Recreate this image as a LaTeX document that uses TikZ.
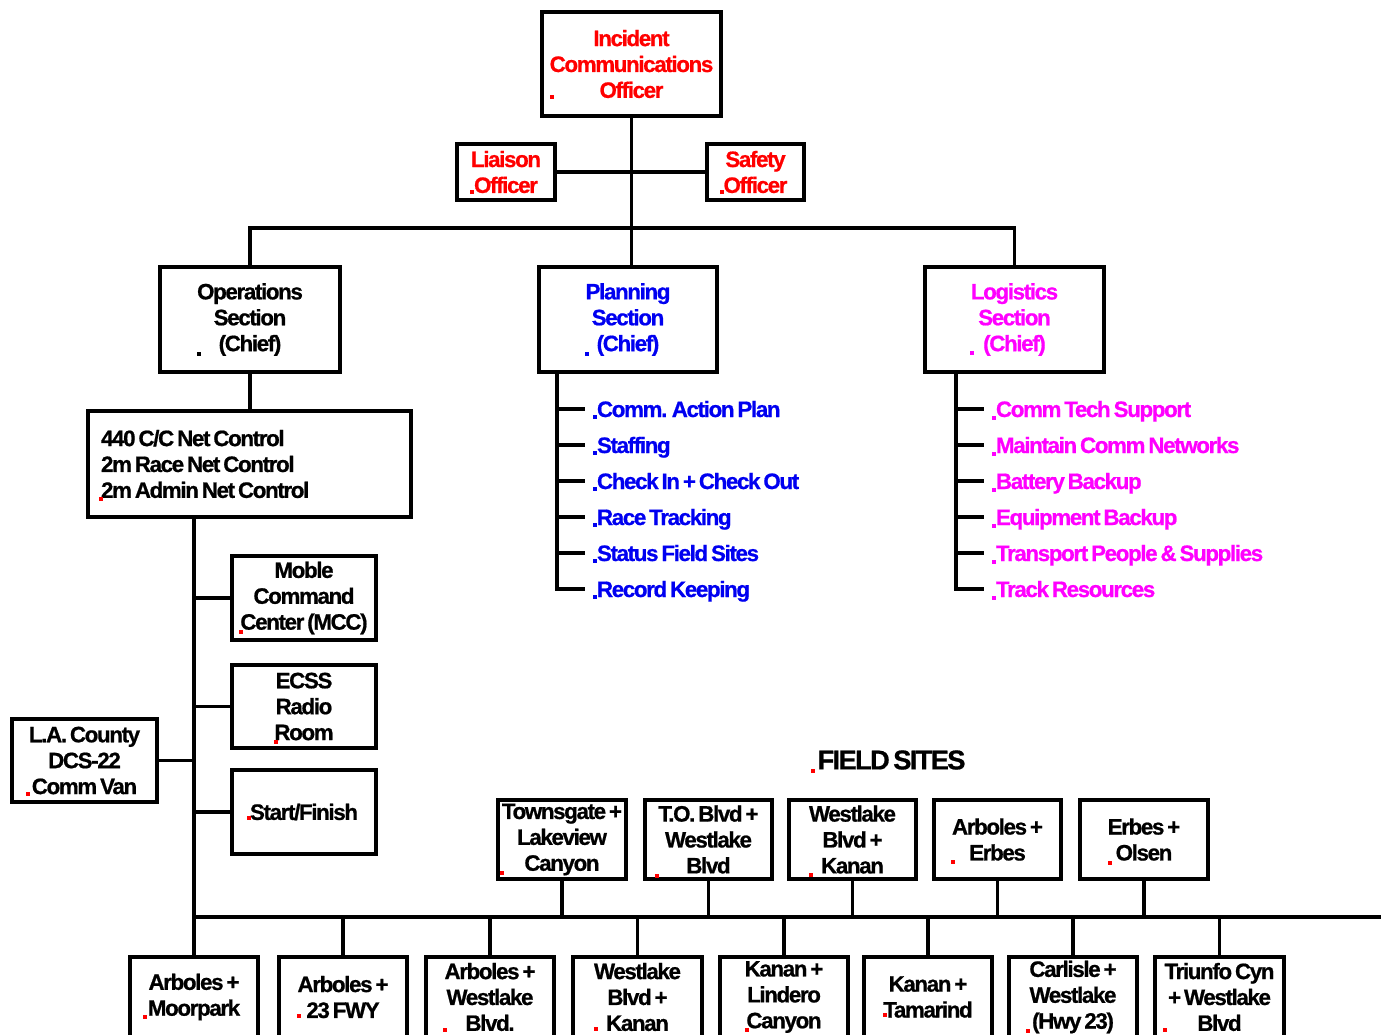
\documentclass[tikz,border=0pt]{standalone}
\usepackage{fontspec}
\setmainfont{Liberation Sans}[LetterSpace=-6, WordSpace=0.6, BoldFeatures={FakeBold=0.8}]
\usepackage{tikz}
\usepackage{xcolor}
\definecolor{icsred}{RGB}{255,0,0}
\definecolor{icsblue}{RGB}{0,0,240}
\definecolor{icspink}{RGB}{255,0,255}
\newcommand\boxfont{\bfseries\fontsize{12.7}{14.74}\selectfont}

\begin{document}
\begin{tikzpicture}[x=0.02cm, y=-0.02cm,
    wire/.style={line width=2.2pt},
    unitbox/.style 2 args={draw, line width=2.2pt, minimum width=#1*0.02cm,
        minimum height=#2*0.02cm, inner sep=0pt, align=center, font=\boxfont},
    listitem/.style={anchor=west, inner xsep=0.24cm, inner ysep=0pt, outer sep=0pt,
        text height=0.32cm, text depth=0pt, font=\boxfont}]
    \useasboundingbox (0,0) rectangle (1381,1034);
    \clip (0,0) rectangle (1381,1034);
    % command staff
    \node[unitbox={179}{104}, text=icsred] (ico) at (631.5,64) {Incident\\Communications\\Officer};
    \node[unitbox={98}{56}, text=icsred] (liaison) at (506,172) {Liaison\\Officer};
    \node[unitbox={97}{56}, text=icsred] (safety) at (755.5,172) {Safety\\Officer};
    % sections
    \node[unitbox={180}{105}] (ops) at (250,319.5) {Operations\\Section\\(Chief)};
    \node[unitbox={178}{105}, text=icsblue] (plan) at (628,319.5) {Planning\\Section\\(Chief)};
    \node[unitbox={179}{105}, text=icspink] (logi) at (1014.5,319.5) {Logistics\\Section\\(Chief)};
    \node[unitbox={323}{106}, text width=5.94cm, inner xsep=0.26cm, align=flush left] (netc) at (249.5,464)
        {440 C/C Net Control\\2m Race Net Control\\2m Admin Net Control};
    \node[unitbox={144}{84}] (mcc) at (304,598) {Moble\\Command\\Center (MCC)};
    \node[unitbox={144}{83}] (ecss) at (304,706.5) {ECSS\\Radio\\Room};
    \node[unitbox={144}{84}] (start) at (304,812) {Start/Finish};
    \node[unitbox={145}{83}] (lacty) at (84.5,760.5) {L.A. County\\DCS-22\\Comm Van};
    % planning and logistics tasks
    \foreach \txt [count=\i] in {Comm. Action Plan, Staffing, Check In + Check Out,
        Race Tracking, Status Field Sites, Record Keeping}
        \node[listitem, text=icsblue] (pl\i) at (585,373+36*\i) {\txt};
    \foreach \txt [count=\i] in {Comm Tech Support, Maintain Comm Networks, Battery Backup,
        Equipment Backup, Transport People \& Supplies, Track Resources}
        \node[listitem, text=icspink] (lg\i) at (984,373+36*\i) {\txt};
    % field sites
    \node[inner sep=0pt, font=\bfseries\fontsize{15.5}{18}\selectfont] (fstitle) at (891.5,760) {FIELD SITES};
    \node[unitbox={128}{79}] (towns) at (562,839.5) {Townsgate +\\Lakeview\\Canyon};
    \node[unitbox={127}{79}] (tob) at (708.5,839.5) {T.O. Blvd +\\Westlake\\Blvd};
    \node[unitbox={127}{79}] (wlkan) at (852.5,839.5) {Westlake\\Blvd +\\Kanan};
    \node[unitbox={127}{79}] (arberb) at (997.5,839.5) {Arboles +\\Erbes};
    \node[unitbox={128}{79}] (erbols) at (1144,839.5) {Erbes +\\Olsen};
    \node[unitbox={128}{80}] (moor) at (194,997) {Arboles +\\Moorpark};
    \node[unitbox={128}{80}] (fwy23) at (343,997) {Arboles +\\23 FWY};
    \node[unitbox={128}{80}] (arbwb) at (490,997) {Arboles +\\Westlake\\Blvd.};
    \node[unitbox={129}{80}] (wbkan) at (637.5,997) {Westlake\\Blvd +\\Kanan};
    \node[unitbox={128}{80}] (kanlin) at (784,997) {Kanan +\\Lindero\\Canyon};
    \node[unitbox={128}{80}] (kantam) at (928,997) {Kanan +\\Tamarind};
    \node[unitbox={128}{80}] (carl) at (1073,997) {Carlisle +\\Westlake\\(Hwy 23)};
    \node[unitbox={129}{80}] (triu) at (1219.5,997) {Triunfo Cyn\\+ Westlake\\Blvd};
    % connectors
    \coordinate (secbus) at (631.5,228);
    \draw[wire] (liaison.east) -- (safety.west);
    \draw[wire] (ico.south) -- (secbus);
    \draw[wire] (ops.north) |- (secbus) -| (logi.north);
    \draw[wire] (secbus) -- (secbus |- plan.north);
    \draw[wire] (ops.south) -- (ops.south |- netc.north);
    \coordinate (plspine) at ([xshift=0.4cm]plan.south west);
    \coordinate (lgspine) at ([xshift=0.66cm]logi.south west);
    \draw[wire] (plspine) |- (pl6.west);
    \draw[wire] (lgspine) |- (lg6.west);
    \foreach \i in {1,...,5} {
        \draw[wire] (plspine |- pl\i.west) -- (pl\i.west);
        \draw[wire] (lgspine |- lg\i.west) -- (lg\i.west);
    }
    \draw[wire] (netc.south -| moor.north) -- (moor.north);
    \foreach \n in {mcc,ecss,start}
        \draw[wire] (\n.west) -- (\n.west -| moor.north);
    \draw[wire] (lacty.east) -- (lacty.east -| moor.north);
    \coordinate (fsbus) at (194,917);
    \coordinate (busend) at (1381,917);
    \draw[wire] (fsbus) -- (busend);
    \foreach \n in {towns,tob,wlkan,arberb,erbols}
        \draw[wire] (\n.south) -- (\n.south |- fsbus);
    \foreach \n in {fwy23,arbwb,wbkan,kanlin,kantam,carl,triu}
        \draw[wire] (\n.north) -- (\n.north |- fsbus);
    % stray marks
    \foreach \x/\y in {552/97, 472/192, 722/192, 101/499, 241/632, 276/742, 28/794, 249/818,
        813/771, 502/873, 657/876, 811/875, 953/862, 1110/863, 145/1017, 299/1016,
        445/1030, 596/1029, 747/1030, 885/1015, 1028/1031, 1165/1030}
        \fill[icsred] (\x-2,\y-2) rectangle (\x+2,\y+2);
    \fill[black] (197,352) rectangle (201,356);
    \foreach \x/\y in {587/354, 595/417, 595/453, 595/489, 595/525, 595/561, 595/597}
        \fill[icsblue] (\x-2,\y-2) rectangle (\x+2,\y+2);
    \foreach \x/\y in {972/353, 994/418, 994/454, 994/490, 994/526, 994/562, 994/598}
        \fill[icspink] (\x-2,\y-2) rectangle (\x+2,\y+2);
\end{tikzpicture}
\end{document}
